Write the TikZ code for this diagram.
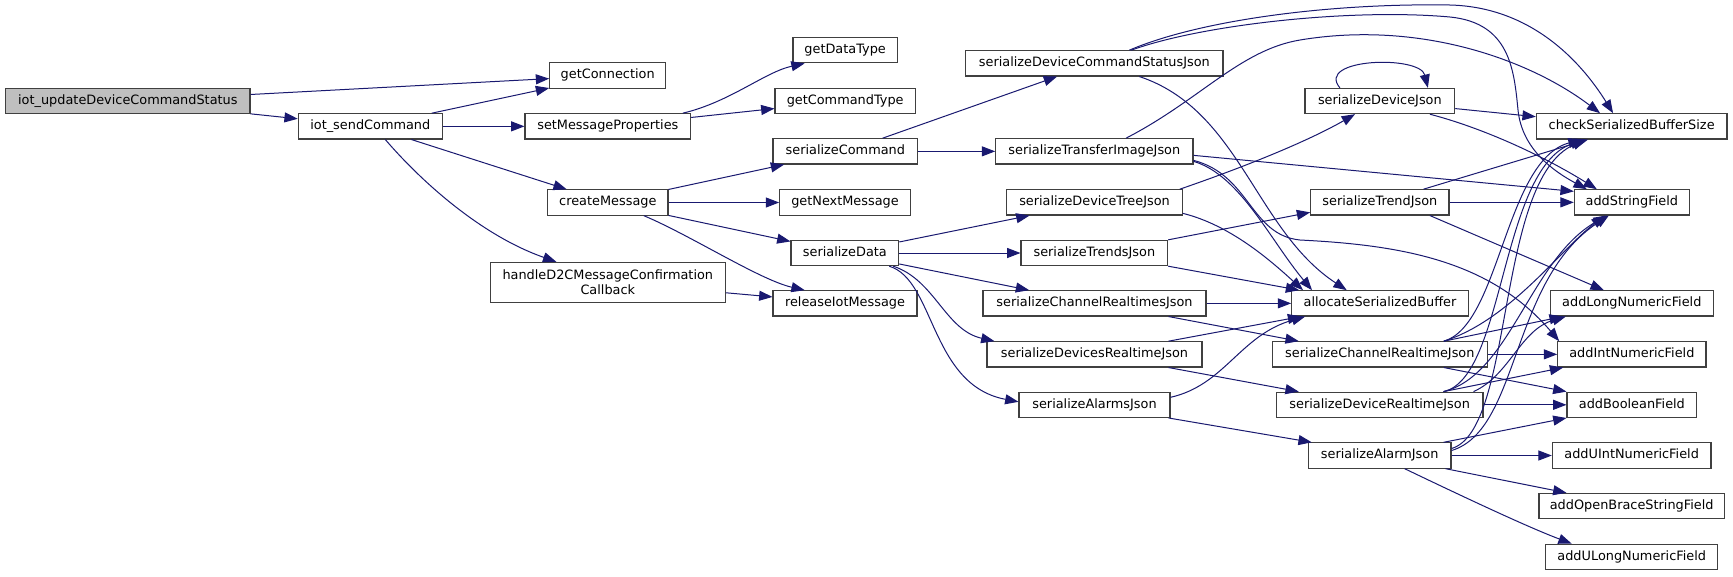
\documentclass[tikz,border=0pt]{standalone}
\usepackage{fontspec}
\newfontfamily\dvsfont{DejaVu Sans}
\usetikzlibrary{arrows.meta,calc}
\definecolor{edgeblue}{HTML}{191970}
\definecolor{rootgray}{HTML}{BFBFBF}
\definecolor{boxline}{HTML}{404040}
\tikzset{
  box/.style={draw=boxline, line width=0.8pt, fill=white, inner sep=0pt,
    minimum height=25.3*0.75pt, font=\dvsfont\fontsize{9.65}{11.25}\selectfont},
  fn/.style={box, text height=0.76em, text depth=0.24em},
  bw/.style={minimum width=#1*0.75pt},
  e/.style={draw=edgeblue, line width=0.75pt, -{Triangle[length=10pt,width=7.5pt]}},
}
\begin{document}
\begin{tikzpicture}[x=0.75pt,y=-0.75pt]
\useasboundingbox (0,0) rectangle (1733,576);
\fill[white] (0,0) rectangle (1733,576);

% nodes
\node[fn,bw=244.3,fill=rootgray] (root) at (127.85,101) {iot\_updateDeviceCommandStatus};
\node[fn,bw=144] (send) at (370.3,126.35) {iot\_sendCommand};
\node[fn,bw=116] (getConn) at (607.7,75.5) {getConnection};
\node[fn,bw=165.7] (setMsg) at (607.85,126.35) {setMessageProperties};
\node[fn,bw=120.3] (createMsg) at (607.85,202.5) {createMessage};
\node[box,bw=235,minimum height=40*0.75pt,align=center] (handle) at (607.8,282.3) {handleD2CMessageConfirmation\\Callback};
\node[fn,bw=104.3] (getDT) at (845.15,50.2) {getDataType};
\node[fn,bw=140.3] (getCT) at (845.15,101) {getCommandType};
\node[fn,bw=144.7] (serCmd) at (845.35,151.35) {serializeCommand};
\node[fn,bw=130.6] (getNext) at (845,202.5) {getNextMessage};
\node[fn,bw=107.7] (serData) at (844.85,253) {serializeData};
\node[fn,bw=144] (release) at (845,303.35) {releaseIotMessage};
\node[fn,bw=257.3] (sDCSJ) at (1094.35,63.35) {serializeDeviceCommandStatusJson};
\node[fn,bw=197.3] (sTIJ) at (1094.35,151.35) {serializeTransferImageJson};
\node[fn,bw=175.6] (sDTJ) at (1094.5,202.35) {serializeDeviceTreeJson};
\node[fn,bw=146.7] (sTsJ) at (1094.35,253) {serializeTrendsJson};
\node[fn,bw=223] (sCRsJ) at (1094.5,303.35) {serializeChannelRealtimesJson};
\node[fn,bw=215] (sDRsJ) at (1094.5,354.35) {serializeDevicesRealtimeJson};
\node[fn,bw=151] (sAsJ) at (1094.5,404.8) {serializeAlarmsJson};
\node[fn,bw=149.7] (sDJ) at (1379.85,101) {serializeDeviceJson};
\node[fn,bw=138.3] (sTJ) at (1379.85,202.35) {serializeTrendJson};
\node[fn,bw=176.6] (alloc) at (1380,303.35) {allocateSerializedBuffer};
\node[fn,bw=215] (sCRJ) at (1379.8,354.35) {serializeChannelRealtimeJson};
\node[fn,bw=206.7] (sDRJ) at (1379.65,404.8) {serializeDeviceRealtimeJson};
\node[fn,bw=142.7] (sAJ) at (1379.65,455.5) {serializeAlarmJson};
\node[fn,bw=190.7] (check) at (1631.65,126.35) {checkSerializedBufferSize};
\node[fn,bw=115] (addStr) at (1631.8,202.35) {addStringField};
\node[fn,bw=163] (addLong) at (1631.8,303.35) {addLongNumericField};
\node[fn,bw=148.3] (addInt) at (1631.85,354.35) {addIntNumericField};
\node[fn,bw=129.7] (addBool) at (1631.85,404.8) {addBooleanField};
\node[fn,bw=158.7] (addUInt) at (1631.65,455.5) {addUIntNumericField};
\node[fn,bw=185.3] (addOpen) at (1631.65,506) {addOpenBraceStringField};
\node[fn,bw=172] (addULong) at (1631.7,556.8) {addULongNumericField};

% left part
\draw[e] (root) -- (getConn);
\draw[e] (root) -- (send);
\draw[e] (send) -- (getConn);
\draw[e] (send) -- (setMsg);
\draw[e] (send) -- (createMsg);
\draw[e] ($(send.south)+(15,0)$) .. controls (420,180) and (480,235) .. ($(handle.north)+(-51.5,0)$);
\draw[e] ($(setMsg.north)+(75,0)$) .. controls (730,102) and (765,72) .. ($(getDT.south)+(-40.5,0)$);
\draw[e] (setMsg) -- (getCT);
\draw[e] (createMsg) -- (serCmd);
\draw[e] (createMsg) -- (getNext);
\draw[e] (createMsg) -- (serData);
\draw[e] ($(createMsg.south)+(36,0)$) .. controls (690,235) and (760,280) .. ($(release.north)+(-40.3,0)$);
\draw[e] (handle) -- (release);
\draw[e] (serCmd) -- (sDCSJ);
\draw[e] (serCmd) -- (sTIJ);
\draw[e] (serData) -- (sDTJ);
\draw[e] (serData) -- (sTsJ);
\draw[e] (serData) -- (sCRsJ);
\draw[e] ($(serData.south east)+(-6,0)$) .. controls (935,280) and (945,330) .. ($(sDRsJ.north west)+(8,0)$);
\draw[e] ($(serData.south east)+(-10,0)$) .. controls (935,280) and (930,385) .. ($(sAsJ.west)+(0,-3)$);

% serializeDeviceCommandStatusJson
\draw[e] ($(sDCSJ.north)+(35,0)$) .. controls (1200,20) and (1330,3) .. (1450,5) .. controls (1530,7) and (1580,60) .. ($(check.north)+(-18.6,0)$);
\draw[e] ($(sDCSJ.north)+(37,0)$) .. controls (1200,25) and (1350,8) .. (1450,17) .. controls (1510,23) and (1514,70) .. (1518,110) .. controls (1522,150) and (1555,172) .. ($(addStr.north)+(-45,0)$);
\draw[e] ($(sDCSJ.south)+(45,0)$) .. controls (1240,110) and (1255,230) .. ($(alloc.north)+(-33.3,0)$);

% serializeTransferImageJson
\draw[e] ($(sTIJ.north)+(31.7,0)$) .. controls (1200,100) and (1240,50) .. (1300,40) .. controls (1420,20) and (1530,60) .. ($(check.north)+(-31.6,0)$);
\draw[e] ($(sTIJ.east)+(0,4)$) -- ($(addStr.west)+(0,-11)$);
\draw[e] ($(sTIJ.east)+(0,10)$) .. controls (1240,175) and (1270,240) .. ($(alloc.north)+(-68,0)$);
\draw[e] ($(sTIJ.east)+(0,9)$) .. controls (1250,175) and (1250,235) .. (1300,240) .. controls (1400,245) and (1490,260) .. ($(addInt.north west)+(2,0)$);

% serializeDeviceTreeJson
\draw[e] ($(sDTJ.north east)+(-3,0)$) .. controls (1250,165) and (1310,140) .. ($(sDJ.south)+(-24.85,0)$);
\draw[e] ($(sDTJ.east)+(0,11)$) .. controls (1230,225) and (1270,260) .. ($(alloc.north)+(-77,0)$);

% serializeTrendsJson
\draw[e] (sTsJ.north east) -- ($(sTJ.west)+(0,10)$);
\draw[e] (sTsJ.south east) -- ($(alloc.north west)+(8,0)$);

% serializeChannelRealtimesJson
\draw[e] (sCRsJ) -- (alloc);
\draw[e] ($(sCRsJ.south east)+(-38,0)$) -- ($(sCRJ.north west)+(27,0)$);

% serializeDevicesRealtimeJson
\draw[e] ($(sDRsJ.north east)+(-34,0)$) -- ($(alloc.south west)+(10,0)$);
\draw[e] ($(sDRsJ.south east)+(-34,0)$) -- ($(sDRJ.north west)+(23,0)$);

% serializeAlarmsJson
\draw[e] ($(sAsJ.east)+(0,-7.5)$) .. controls (1225,385) and (1240,335) .. ($(alloc.south west)+(14,0)$);
\draw[e] ($(sAsJ.south east)+(-2,0)$) -- ($(sAJ.north west)+(4,0)$);

% serializeDeviceJson
\draw[e] ($(sDJ.north)+(-40,0)$) .. controls (1315,58) and (1420,55) .. ($(sDJ.north)+(48,0)$);
\draw[e] (sDJ) -- (check);
\draw[e] ($(sDJ.south)+(50,0)$) .. controls (1490,130) and (1550,160) .. ($(addStr.north)+(-35,0)$);

% serializeTrendJson
\draw[e] (sTJ) -- (check);
\draw[e] (sTJ) -- (addStr);
\draw[e] ($(sTJ.south)+(50,0)$) -- ($(addLong.north)+(-28,0)$);

% serializeChannelRealtimeJson
\draw[e] (sCRJ) -- (addInt);
\draw[e] ($(sCRJ.north east)+(-44,0)$) -- ($(addLong.south west)+(13,0)$);
\draw[e] ($(sCRJ.south east)+(-44,0)$) -- (addBool.north west);
\draw[e] ($(sCRJ.north east)+(-44,0)$) .. controls (1500,325) and (1505,160) .. ($(check.south)+(-50,0)$);
\draw[e] ($(sCRJ.north east)+(-44,0)$) .. controls (1510,320) and (1560,250) .. ($(addStr.south)+(-27,0)$);

% serializeDeviceRealtimeJson
\draw[e] (sDRJ) -- (addBool);
\draw[e] ($(sDRJ.north east)+(-40,0)$) -- ($(addInt.south west)+(6,0)$);
\draw[e] ($(sDRJ.north east)+(-10,0)$) .. controls (1510,375) and (1520,330) .. ($(addLong.south west)+(16,0)$);
\draw[e] ($(sDRJ.north east)+(-40,0)$) .. controls (1505,378) and (1500,170) .. ($(check.south)+(-48,0)$);
\draw[e] ($(sDRJ.north east)+(-40,0)$) .. controls (1510,375) and (1530,260) .. ($(addStr.south)+(-25,0)$);

% serializeAlarmJson
\draw[e] (sAJ) -- (addUInt);
\draw[e] ($(sAJ.north east)+(-8,0)$) -- (addBool.south west);
\draw[e] ($(sAJ.south east)+(-6,0)$) -- ($(addOpen.north west)+(28,0)$);
\draw[e] ($(sAJ.south)+(25,0)$) .. controls (1470,500) and (1530,528) .. ($(addULong.north)+(-60,0)$);
\draw[e] ($(sAJ.east)+(0,-7)$) .. controls (1515,430) and (1495,180) .. ($(check.south)+(-46,0)$);
\draw[e] ($(sAJ.east)+(0,-5)$) .. controls (1520,430) and (1510,280) .. ($(addStr.south)+(-23,0)$);
\end{tikzpicture}
\end{document}
